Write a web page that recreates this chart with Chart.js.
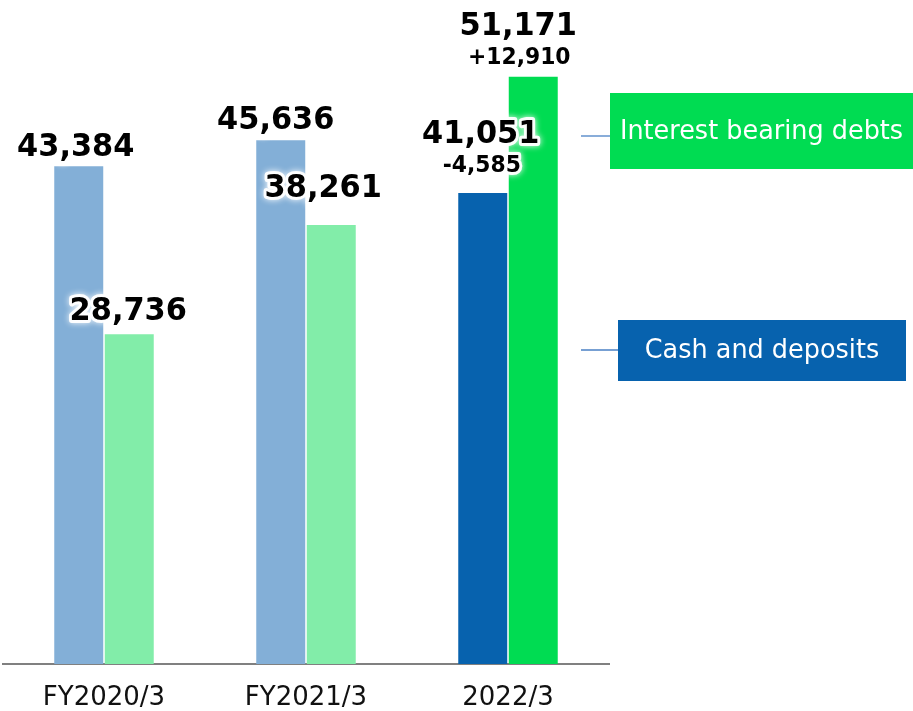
<!DOCTYPE html>
<html>
<head>
<meta charset="utf-8">
<script src="https://cdn.jsdelivr.net/npm/chart.js@4/dist/chart.umd.min.js"></script>
<style>
html,body{margin:0;padding:0;background:#fff;}
#wrap{width:913px;height:711px;position:relative;}
</style>
</head>
<body>
<div id="wrap"><canvas id="c" width="913" height="711"></canvas></div>
<script>
// ---- data ----
const categories = ['FY2020/3', 'FY2021/3', '2022/3'];
const cashDeposits = [43384, 45636, 41051];
const interestDebts = [28736, 38261, 51171];
const cashChange = [null, null, -4585];
const debtChange = [null, null, 12910];
const seriesNames = ['Cash and deposits', 'Interest bearing debts'];

// ---- styles ----
const cashColors = ['#83AFD7', '#83AFD7', '#0762AE'];
const debtColors = ['#82EDA9', '#82EDA9', '#00DC52'];
const FONT = '"DejaVu Sans", Verdana, sans-serif';
// main label offsets (dx, dy) relative to bar top-center, per category
const cashLabelOffset = [[-3, -19], [-5, -20], [-2, -58]];
const debtLabelOffset = [[-1, -23], [-8, -36], [-15, -50]];
const changeGap = 31;

function fmt(v) { return v.toLocaleString('en-US'); }
function fmtChg(v) { return (v > 0 ? '+' : '') + v.toLocaleString('en-US'); }

function glowText(ctx, txt, x, y, font, sx) {
  ctx.save();
  ctx.translate(x, y);
  ctx.scale(sx, 1);
  ctx.font = font;
  ctx.textAlign = 'center';
  ctx.textBaseline = 'middle';
  ctx.lineJoin = 'round';
  ctx.shadowColor = 'rgba(255,255,255,1)';
  ctx.shadowBlur = 6;
  ctx.strokeStyle = 'rgba(255,255,255,0.95)';
  ctx.lineWidth = 6;
  ctx.strokeText(txt, 0, 0);
  ctx.shadowBlur = 0;
  ctx.fillStyle = '#000';
  ctx.fillText(txt, 0, 0);
  ctx.restore();
}

const labelPlugin = {
  id: 'labels',
  afterDatasetsDraw(chart) {
    const ctx = chart.ctx;
    const sets = [
      { vals: cashDeposits, chg: cashChange, off: cashLabelOffset, meta: chart.getDatasetMeta(0) },
      { vals: interestDebts, chg: debtChange, off: debtLabelOffset, meta: chart.getDatasetMeta(1) }
    ];
    sets.forEach(s => {
      s.meta.data.forEach((bar, i) => {
        const x = bar.x + s.off[i][0];
        const y = bar.y + s.off[i][1];
        glowText(ctx, fmt(s.vals[i]), x, y, 'bold 32px ' + FONT, 0.95);
        if (s.chg[i] !== null) {
          glowText(ctx, fmtChg(s.chg[i]), x + 1, y + changeGap, 'bold 23px ' + FONT, 0.95);
        }
      });
    });

    // legend callouts
    const boxes = [
      { name: seriesNames[1], color: debtColors[2], x: 610, y: 93, w: 303, h: 76, lineY: 136, textY: 132 },
      { name: seriesNames[0], color: cashColors[2], x: 618, y: 320, w: 288, h: 61, lineY: 350, textY: 351 }
    ];
    ctx.save();
    boxes.forEach(b => {
      ctx.strokeStyle = '#4A80C4';
      ctx.lineWidth = 1.3;
      ctx.beginPath();
      ctx.moveTo(581, b.lineY);
      ctx.lineTo(b.x, b.lineY);
      ctx.stroke();
      ctx.fillStyle = b.color;
      ctx.fillRect(b.x, b.y, b.w, b.h);
      ctx.save();
      ctx.translate(b.x + b.w / 2, b.textY);
      ctx.scale(1, 1.06);
      ctx.fillStyle = '#fff';
      ctx.font = '25.5px ' + FONT;
      ctx.textAlign = 'center';
      ctx.textBaseline = 'middle';
      ctx.fillText(b.name, 0, 0);
      ctx.restore();
    });
    ctx.restore();
  }
};

new Chart(document.getElementById('c'), {
  type: 'bar',
  data: {
    labels: categories,
    datasets: [
      { label: seriesNames[0], data: cashDeposits, backgroundColor: cashColors,
        categoryPercentage: 0.5, barPercentage: 0.97 },
      { label: seriesNames[1], data: interestDebts, backgroundColor: debtColors,
        categoryPercentage: 0.5, barPercentage: 0.97 }
    ]
  },
  options: {
    responsive: false,
    animation: false,
    layout: { padding: { left: 3, right: 304, top: 0, bottom: 0 } },
    plugins: { legend: { display: false }, tooltip: { enabled: false } },
    scales: {
      x: {
        grid: { display: false, drawTicks: false },
        border: { display: true, color: '#808080', width: 2 },
        ticks: { color: '#111', font: { family: FONT, size: 26 }, padding: 19 },
        afterFit(scale) { scale.height = 47; }
      },
      y: {
        display: false,
        min: 0,
        max: 57870
      }
    }
  },
  plugins: [labelPlugin]
});
</script>
</body>
</html>
